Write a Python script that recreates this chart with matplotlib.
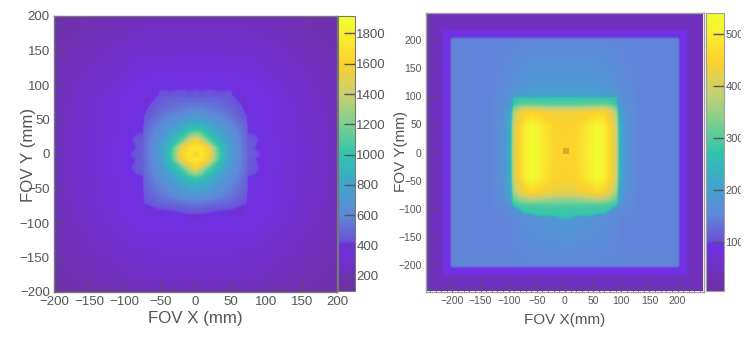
import matplotlib
matplotlib.use("Agg")
import matplotlib.pyplot as plt
import numpy as np
from matplotlib.colors import LinearSegmentedColormap
from matplotlib.ticker import MultipleLocator
from matplotlib.transforms import Bbox

# left map, values, x >= 0 half of each row
left_x = [0, 8, 20, 35, 48, 55, 65, 71, 74, 84, 92, 100, 140, 200]
left_y = [200, 140, 100, 88, 83, 81, 68, 55, 35, 20, 8, 0, -8, -20, -35, -60, -72, -80, -86, -91, -100, -140, -200]
left_z = [
    [230, 230, 230, 230, 230, 230, 228, 225, 225, 222, 220, 210, 180, 140],
    [320, 320, 320, 320, 318, 315, 312, 310, 310, 305, 300, 290, 250, 180],
    [395, 395, 390, 390, 388, 385, 378, 375, 370, 365, 355, 340, 290, 210],
    [440, 425, 440, 425, 435, 400, 390, 385, 380, 375, 365, 360, 300, 215],
    [445, 430, 445, 430, 440, 405, 395, 385, 385, 380, 370, 365, 305, 220],
    [480, 480, 475, 465, 450, 425, 270, 250, 385, 380, 370, 365, 305, 220],
    [560, 555, 540, 520, 480, 455, 430, 270, 385, 380, 372, 365, 308, 222],
    [680, 670, 630, 590, 540, 510, 450, 430, 390, 385, 375, 365, 310, 225],
    [1000, 970, 870, 740, 640, 600, 530, 490, 400, 395, 385, 370, 315, 230],
    [1550, 1400, 1080, 880, 700, 640, 560, 510, 460, 440, 400, 375, 320, 235],
    [1750, 1700, 1500, 980, 750, 670, 570, 520, 465, 415, 395, 380, 320, 235],
    [1450, 1750, 1550, 1000, 760, 680, 570, 520, 470, 450, 415, 380, 320, 235],
    [1750, 1700, 1500, 980, 750, 670, 570, 520, 465, 420, 395, 380, 320, 235],
    [1550, 1400, 1080, 880, 700, 640, 560, 510, 460, 445, 405, 375, 320, 235],
    [1000, 970, 870, 740, 640, 600, 530, 490, 410, 395, 385, 370, 315, 230],
    [680, 670, 640, 590, 540, 520, 470, 450, 390, 385, 380, 365, 310, 225],
    [540, 530, 510, 490, 470, 455, 440, 420, 385, 380, 375, 365, 305, 220],
    [460, 455, 440, 425, 420, 410, 280, 260, 380, 378, 375, 365, 305, 220],
    [425, 420, 410, 400, 290, 265, 255, 375, 378, 375, 370, 360, 300, 215],
    [270, 270, 360, 372, 375, 375, 375, 375, 375, 372, 370, 360, 300, 215],
    [385, 385, 385, 385, 383, 380, 375, 370, 370, 365, 360, 340, 290, 210],
    [320, 320, 320, 320, 318, 315, 312, 310, 310, 305, 300, 290, 250, 180],
    [230, 230, 230, 230, 230, 230, 228, 225, 225, 222, 220, 210, 180, 140],
]

# right map, same idea
right_x = [0, 4, 20, 45, 58, 70, 80, 90, 93, 96, 110, 130, 199, 204, 214, 218, 245]
right_y = [245, 218, 214, 204, 199, 120, 100, 98, 96, 85, 78, 70, 45, 0, -45, -70, -85, -92, -97, -105, -110, -113, -120, -199, -204, -214, -218, -245]
right_z = [
    [40, 40, 40, 40, 40, 40, 40, 40, 40, 40, 40, 40, 40, 40, 40, 40, 40],
    [45, 45, 45, 45, 45, 45, 45, 45, 45, 45, 45, 45, 45, 45, 45, 40, 40],
    [92, 92, 92, 92, 92, 92, 92, 92, 92, 92, 92, 92, 92, 92, 92, 45, 40],
    [92, 92, 92, 92, 92, 92, 92, 92, 92, 92, 92, 92, 92, 92, 92, 45, 40],
    [150, 150, 150, 150, 150, 150, 150, 150, 150, 150, 150, 150, 150, 92, 92, 45, 40],
    [185, 185, 185, 185, 185, 180, 175, 170, 165, 160, 155, 150, 150, 92, 92, 45, 40],
    [205, 205, 205, 205, 205, 200, 195, 190, 185, 175, 160, 150, 150, 92, 92, 45, 40],
    [210, 210, 210, 210, 210, 205, 200, 195, 190, 180, 160, 150, 150, 92, 92, 45, 40],
    [275, 275, 275, 275, 275, 275, 275, 270, 195, 180, 160, 150, 150, 92, 92, 45, 40],
    [300, 300, 300, 305, 310, 310, 300, 280, 200, 185, 160, 150, 150, 92, 92, 45, 40],
    [375, 375, 375, 385, 395, 390, 370, 325, 270, 195, 165, 150, 150, 92, 92, 45, 40],
    [435, 435, 435, 440, 450, 445, 420, 370, 300, 215, 165, 150, 150, 92, 92, 45, 40],
    [445, 445, 450, 495, 530, 495, 445, 400, 340, 235, 170, 150, 150, 92, 92, 45, 40],
    [450, 450, 455, 505, 540, 505, 450, 405, 350, 240, 170, 150, 150, 92, 92, 45, 40],
    [445, 445, 450, 495, 530, 495, 445, 400, 340, 235, 170, 150, 150, 92, 92, 45, 40],
    [420, 420, 425, 440, 450, 435, 410, 360, 300, 210, 165, 150, 150, 92, 92, 45, 40],
    [335, 335, 340, 350, 360, 350, 330, 300, 260, 195, 160, 150, 150, 92, 92, 45, 40],
    [300, 300, 300, 300, 300, 295, 290, 280, 180, 175, 160, 150, 150, 92, 92, 45, 40],
    [285, 285, 285, 285, 285, 285, 280, 175, 170, 165, 155, 150, 150, 92, 92, 45, 40],
    [280, 280, 280, 280, 278, 275, 175, 170, 165, 160, 155, 150, 150, 92, 92, 45, 40],
    [278, 278, 275, 272, 180, 175, 170, 165, 160, 155, 150, 150, 150, 92, 92, 45, 40],
    [275, 270, 190, 180, 175, 170, 165, 160, 155, 155, 150, 150, 150, 92, 92, 45, 40],
    [185, 185, 180, 175, 170, 165, 160, 155, 155, 150, 150, 150, 150, 92, 92, 45, 40],
    [150, 150, 150, 150, 150, 150, 150, 150, 150, 150, 150, 150, 150, 92, 92, 45, 40],
    [92, 92, 92, 92, 92, 92, 92, 92, 92, 92, 92, 92, 92, 92, 92, 45, 40],
    [92, 92, 92, 92, 92, 92, 92, 92, 92, 92, 92, 92, 92, 92, 92, 45, 40],
    [45, 45, 45, 45, 45, 45, 45, 45, 45, 45, 45, 45, 45, 45, 45, 40, 40],
    [40, 40, 40, 40, 40, 40, 40, 40, 40, 40, 40, 40, 40, 40, 40, 40, 40],
]

# small orange square in the middle of the right map
spot_x = [2]
spot_y = [2]

left_ticks = [-200, -150, -100, -50, 0, 50, 100, 150, 200]
right_ticks = [-200, -150, -100, -50, 0, 50, 100, 150, 200]
left_cbar_ticks = [200, 400, 600, 800, 1000, 1200, 1400, 1600, 1800]
right_cbar_ticks = [100, 200, 300, 400, 500]

plt.rcParams['font.family'] = ['Liberation Sans', 'DejaVu Sans']
grey = '#555555'

cmap = LinearSegmentedColormap.from_list('rootish', [
    (0.0, '#6f30a0'), (0.172, '#7030e8'), (0.178, '#6a50d8'), (0.275, '#5f88d8'),
    (0.386, '#40a5cc'), (0.496, '#30c4ac'), (0.606, '#7cd090'), (0.716, '#c8d070'),
    (0.826, '#fcd22c'), (0.937, '#f8f030'), (1.0, '#efff30')], N=512)


def mirror(x, z):
    # rows are typed for x >= 0 only
    x = np.array(x, dtype=float)
    z = np.array(z, dtype=float)
    return np.r_[-x[:0:-1], x], np.hstack([z[:, :0:-1], z])


def px_axes(fig, x0, y0, x1, y1):
    W, H = 753, 339
    return fig.add_axes([x0 / W, 1 - y1 / H, (x1 - x0) / W, (y1 - y0) / H])


def panel(fig, box, cbox, x, y, z, xlim, ticks, vmin, vmax, cticks, fs, edge):
    ax = px_axes(fig, *box)
    xs, zs = mirror(x, z)
    levels = np.linspace(vmin, vmax, 300)
    cf = ax.contourf(xs, y, np.clip(zs, vmin + 1, vmax - 1), levels=levels, cmap=cmap)
    ax.set_xlim(*xlim)
    ax.set_ylim(*xlim)
    ax.set_xticks(ticks)
    ax.set_yticks(ticks)
    ax.xaxis.set_minor_locator(MultipleLocator(10))
    ax.yaxis.set_minor_locator(MultipleLocator(10))
    ax.tick_params(which='major', direction='in', length=7, width=0.8, color=grey, labelcolor=grey, labelsize=fs, pad=3)
    ax.tick_params(which='minor', direction='in', length=3.5, width=0.6, color=grey)
    for s in ax.spines.values():
        s.set_color(edge)
        s.set_linewidth(1)
    cax = px_axes(fig, *cbox)
    cb = fig.colorbar(cf, cax=cax, ticks=cticks)
    cb.minorticks_off()
    cb.outline.set_edgecolor(edge)
    cb.ax.tick_params(direction='in', length=8, width=1, color=grey, labelcolor=grey, labelsize=fs, pad=1)
    return ax, cb


fig = plt.figure(figsize=(7.53, 3.39), dpi=100)

ax1, cb1 = panel(fig, (54, 16, 337, 292), (338, 16, 355, 291), left_x, left_y, left_z,
                 (-200, 200), left_ticks, 100, 1915, left_cbar_ticks, 9.5, '#777777')
ax1.text(-0.09, 0.497, 'FOV Y (mm)', transform=ax1.transAxes, rotation=90, ha='center', va='center', fontsize=12.2, color=grey)
ax1.text(0.5, -0.095, 'FOV X (mm)', transform=ax1.transAxes, ha='center', va='center', fontsize=12.2, color=grey)

ax2, cb2 = panel(fig, (426, 13, 704, 292), (706, 13, 724, 291), right_x, right_y, right_z,
                 (-247, 247), right_ticks, 6, 540, right_cbar_ticks, 7.5, '#a0a0a0')
ax2.scatter(spot_x, spot_y, marker='s', s=22, color='#e09a35', linewidths=0, alpha=0.85)
ax2.text(-0.09, 0.505, 'FOV Y(mm)', transform=ax2.transAxes, rotation=90, ha='center', va='center', fontsize=11, color=grey)
ax2.text(0.5, -0.10, 'FOV X(mm)', transform=ax2.transAxes, ha='center', va='center', fontsize=11, color=grey)

# the reference cuts the right colour bar labels off
for lab in cb2.ax.get_yticklabels():
    lab.set_fontsize(8)
    lab.set_clip_on(True)
    lab.set_clip_box(Bbox([[700, 0], [741, 339]]))

fig.savefig('out.png', dpi=100)
